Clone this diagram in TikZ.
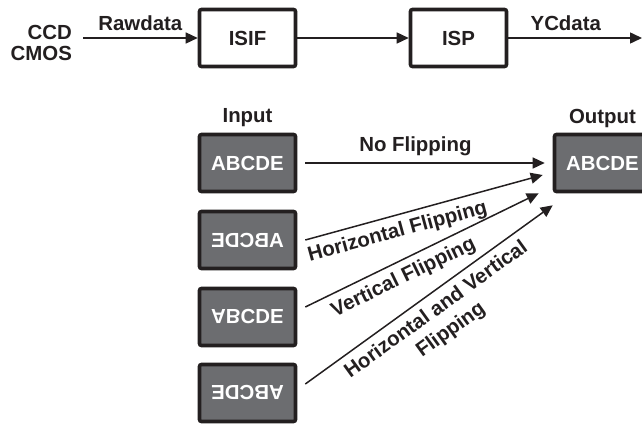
\documentclass[tikz,border=0pt]{standalone}
\usepackage{fontspec}
\setmainfont{Liberation Sans}
\usepackage{graphicx}
\usetikzlibrary{arrows.meta}

\definecolor{boxgray}{RGB}{108,109,112}
\definecolor{edgeblack}{RGB}{35,31,32}

\begin{document}
\begin{tikzpicture}[x=0.5pt, y=-0.5pt]
	% Styles
	\tikzstyle{every node} = [font=\fontsize{10.2}{12.5}\selectfont\bfseries, text=edgeblack]
	\tikzstyle{block} = [draw=edgeblack, fill=white, rectangle, line width=1.8pt, rounded corners=1pt, minimum width=48pt, minimum height=28.5pt]
	\tikzstyle{picbox} = [block, fill=boxgray, text=white]
	\tikzstyle{arrow} = [draw=edgeblack, line width=0.75pt, ->, >={Triangle[length=6pt, width=5.5pt]}]

	\useasboundingbox (0,0) rectangle (642,423);

	% Nodes with absolute coordinates (top chain)
	\node (sensor) [align=right, anchor=east, font=\fontsize{10.2}{10.8}\selectfont\bfseries] at (79,43) {CCD\\CMOS};
	\coordinate (rawin) at (83,38);
	\node (isif) [block] at (247.5,38) {ISIF};
	\node (isp) [block] at (458.5,38) {ISP};
	\coordinate (ycout) at (642,38);

	% Nodes with absolute coordinates (flipping)
	\node (inlabel) at (247.5,118) {Input};
	\node (in1) [picbox] at (247.5,163) {ABCDE};
	\node (in2) [picbox] at (247.5,240) {\reflectbox{ABCDE}};
	\node (in3) [picbox] at (247.5,317) {\rotatebox[origin=c]{180}{\reflectbox{ABCDE}}};
	\node (in4) [picbox] at (247.5,393) {\rotatebox[origin=c]{180}{ABCDE}};
	\node (outlabel) at (602.5,118) {Output};
	\node (out) [picbox] at (602.5,163) {ABCDE};

	% Connections
	\draw [arrow] (rawin) -- node [above] {Rawdata} (isif);
	\draw [arrow] (isif) -- (isp);
	\draw [arrow] (isp) -- node [above, pos=0.43] {YCdata} (ycout);

	\draw [arrow] ([xshift=4pt]in1.east) -- node [above, pos=0.46] {No Flipping} ([xshift=-4pt]out.west);
	\draw [arrow] ([xshift=4pt]in2.east) -- node [below, sloped, pos=0.37] {Horizontal Flipping} ([xshift=-5pt, yshift=-6pt]out.west);
	\draw [arrow] ([xshift=4pt, yshift=5pt]in3.east) -- node [below, sloped, pos=0.39] {Vertical Flipping} ([xshift=-7pt]out.south west);
	\draw [arrow] ([xshift=4pt, yshift=4.5pt]in4.east) -- node [below, sloped, pos=0.49, align=center] {Horizontal and Vertical\\Flipping} ([yshift=-6pt]out.south west);

\end{tikzpicture}
\end{document}
